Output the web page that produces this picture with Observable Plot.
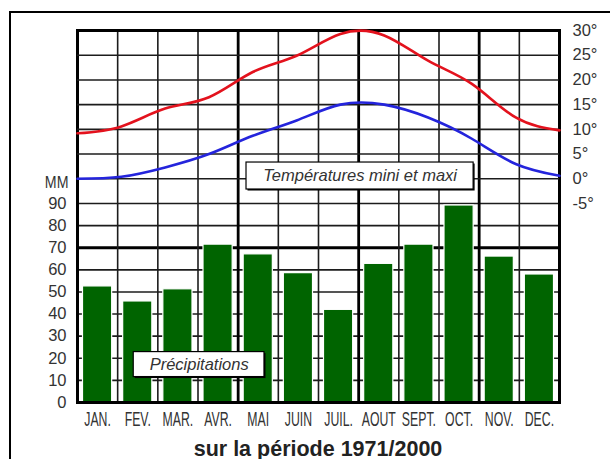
<!DOCTYPE html>
<html><head><meta charset="utf-8">
<script src="https://cdn.jsdelivr.net/npm/d3@7"></script>
<script src="https://cdn.jsdelivr.net/npm/@observablehq/plot@0.6"></script>
<style>
html,body{margin:0;padding:0;background:#fff;overflow:hidden;width:610px;height:459px}
#wrap{position:relative;width:610px;height:459px;overflow:hidden}
#border{position:absolute;left:9px;top:11px;width:700px;height:600px;border-left:2.5px solid #000;border-top:2.5px solid #000}
.layer{position:absolute;left:0;top:0}
#title{position:absolute;left:0;width:636px;top:440px;text-align:center;font:bold 21.5px "Liberation Sans",Arial,sans-serif;color:#222;line-height:19px}
</style></head><body>
<div id="wrap"><div id="border"></div><div id="p1" class="layer"></div><div id="p2" class="layer"></div><div id="title">sur la période 1971/2000</div></div>
<script>
// ---- data ----
const months = ["JAN.","FEV.","MAR.","AVR.","MAI","JUIN","JUIL.","AOUT","SEPT.","OCT.","NOV.","DEC."];
const precipitation = [52.5,45.7,51.2,71.4,67,58.5,41.9,62.7,71.4,89.1,66,57.9];
const tempMax = [9.2,10.6,14.2,16.5,21.6,24.9,29.3,29.0,23.9,19.2,12.4,9.8];
const tempMin = [0,0.4,2.3,5.0,8.7,11.8,15.0,15.0,12.4,8.1,3.0,0.6];
const mmTicks = [0,10,20,30,40,50,60,70,80,90];
const tempTicks = [-5,0,5,10,15,20,25,30];
const tempLabel = "Températures mini et maxi";
const precLabel = "Précipitations";
const unitLabel = "MM";

const W = 610, H = 459;
const M = {marginLeft: 77, marginRight: 51, marginTop: 30, marginBottom: 57};
const font = "'Liberation Sans', Arial, sans-serif";
const gridColor = "#1c1c1c";
const idx = (d, i) => i;

// ---- precipitation layer ----
const p1 = Plot.plot({
  width: W, height: H, ...M,
  style: {fontFamily: font, fontSize: "16px", color: "#333", background: "transparent"},
  x: {type: "linear", domain: [0, 12]},
  y: {type: "linear", domain: [0, 90], range: [402, 203]},
  marks: [
    Plot.ruleY(mmTicks.filter(v => v > 0 && v !== 70), {stroke: gridColor, strokeWidth: 1.6}),
    Plot.ruleY([70], {stroke: "#000", strokeWidth: 3}),
    Plot.ruleX(d3.range(1, 12).filter(v => ![4, 7, 10].includes(v)), {stroke: gridColor, strokeWidth: 1.6}),
    Plot.ruleX([4, 7, 10], {stroke: "#000", strokeWidth: 2.8}),
    Plot.rect(precipitation, {x1: idx, x2: (d, i) => i + 1, y1: 0, y2: d => d, fill: "#006400", stroke: "#fff", strokeWidth: 1.2, insetLeft: 5.5, insetRight: 5.5}),
    Plot.frame({stroke: "#000", strokeWidth: 3}),
    Plot.axisY(mmTicks, {anchor: "left", tickSize: 0, tickPadding: 11, fontSize: 16.5, tickFormat: d => String(d)}),
    Plot.axisX(months.map((m, i) => i + 0.5), {anchor: "bottom", tickSize: 0, tickPadding: 10, fontSize: 19.5, tickFormat: t => months[Math.floor(t)]}),
    Plot.text([unitLabel], {x: 0, y: 99.2, text: d => d, textAnchor: "end", dx: -9, fontSize: 16.5, fill: "#333"}),
    // label box "Précipitations"
    Plot.rect([precLabel], {x1: 1.40, x2: 4.655, y1: 11.5, y2: 22.8, fill: "#000", dx: 1.5, dy: 1.5}),
    Plot.rect([precLabel], {x1: 1.40, x2: 4.655, y1: 11.5, y2: 22.8, fill: "#fff", stroke: "#000", strokeWidth: 1.2}),
    Plot.text([precLabel], {x: 3.03, y: 17.1, text: d => d, fontSize: 16.5, fontStyle: "italic", fill: "#333"})
  ]
});
// condensed month labels and unit label, as in the reference
p1.querySelectorAll('g[aria-label="x-axis tick label"] text').forEach(t => {
  t.setAttribute("transform", (t.getAttribute("transform") || "") + " scale(0.63,1)");
});
p1.querySelectorAll('g[aria-label="text"] text').forEach(t => {
  if (t.textContent === unitLabel) t.setAttribute("transform", (t.getAttribute("transform") || "") + " scale(0.86,1)");
});
document.getElementById("p1").append(p1);

// ---- temperature layer ----
const p2 = Plot.plot({
  width: W, height: H, ...M,
  style: {fontFamily: font, fontSize: "16px", color: "#333", background: "transparent"},
  x: {type: "linear", domain: [0, 11], axis: null},
  y: {type: "linear", domain: [-5, 30], range: [203, 30]},
  marks: [
    Plot.ruleY(tempTicks.filter(v => v > -5 && v < 30), {stroke: gridColor, strokeWidth: 1.6}),
    Plot.line(tempMax, {x: idx, y: d => d, curve: "natural", stroke: "#e3121d", strokeWidth: 2.6}),
    Plot.line(tempMin, {x: idx, y: d => d, curve: "natural", stroke: "#2424dc", strokeWidth: 2.6}),
    Plot.axisY(tempTicks, {anchor: "right", tickSize: 0, tickPadding: 13, fontSize: 16.5, tickFormat: d => d + "°"}),
    // label box "Températures mini et maxi"
    Plot.rect([tempLabel], {x1: 3.857, x2: 9.04, y1: -2.17, y2: 3.29, fill: "#000", dx: 1.5, dy: 1.5}),
    Plot.rect([tempLabel], {x1: 3.857, x2: 9.04, y1: -2.17, y2: 3.29, fill: "#fff", stroke: "#000", strokeWidth: 1.2}),
    Plot.text([tempLabel], {x: 6.45, y: 0.56, text: d => d, fontSize: 16.5, fontStyle: "italic", fill: "#333"})
  ]
});
document.getElementById("p2").append(p2);
</script>
</body></html>
